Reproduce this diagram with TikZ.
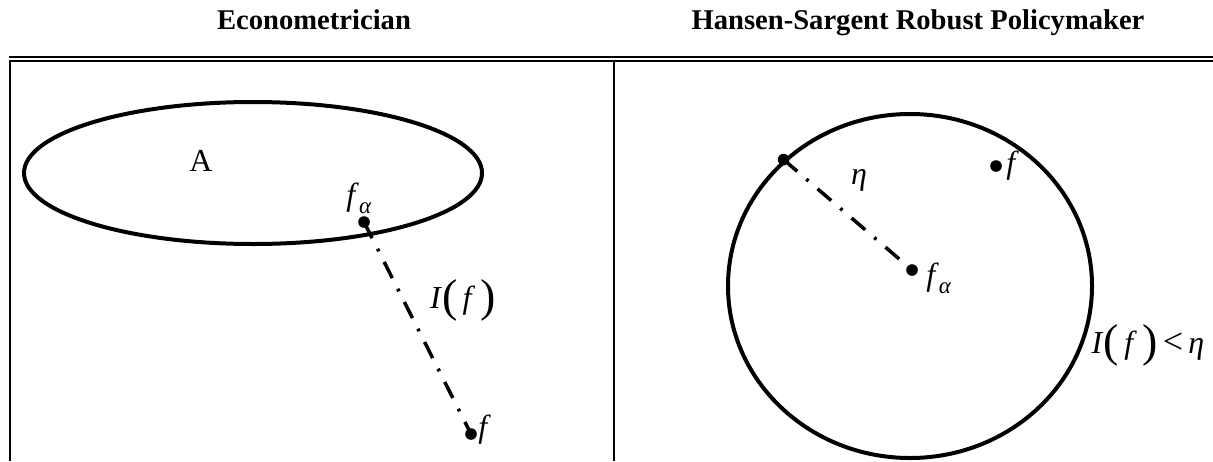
\documentclass[tikz,border=0pt]{standalone}
\usepackage{fontspec}
\setmainfont{Liberation Serif}
\usetikzlibrary{shapes.geometric}
\newcommand\mybigparen[1]{{\fontsize{23}{23}\selectfont\raisebox{-1.5pt}{#1}}}
\newcommand\mysubalpha{\raisebox{-4pt}{\fontsize{11.5}{11.5}\selectfont\textit{α}}}
\begin{document}
\begin{tikzpicture}[x=0.5pt,y=-0.5pt,
  rule/.style={line width=1pt},
  curve/.style={draw,line width=2pt},
  dashdot/.style={line width=1.75pt,dash pattern=on 9pt off 6pt on 1.4pt off 6pt},
  pt/.style={circle,fill,inner sep=0pt,minimum size=5.8pt},
  lab/.style={inner sep=0pt,font=\fontsize{16}{18}\selectfont},
  title/.style={inner sep=0pt,anchor=base,font=\fontsize{14.3}{17}\selectfont\bfseries}]
\useasboundingbox (0,0) rectangle (1213,461);
% titles
\node[title] (t1) at (314,29) {Econometrician};
\node[title] (t2) at (918,29) {Hansen-Sargent Robust Policymaker};
% table rules
\draw[rule] (9,57) -- (1213,57);
\draw[rule] (9,61) -- (1213,61);
\draw[rule] (10,61) -- (10,461);
\draw[rule] (614,61) -- (614,461);
% left panel
\node[ellipse,curve,minimum width=229pt,minimum height=71pt,inner sep=0pt] (EA) at (253,173) {};
\node[lab] (lA) at (201,161) {A};
\node[pt] (fa1) at (364,222) {};
\node[lab] (lfa1) at (359,198) {\textit{f}\mysubalpha};
\node[pt] (f1) at (471,434) {};
\draw[dashdot] (fa1.center) -- (f1.center);
\node[lab,anchor=west] (lf1) at (478,430) {\textit{f}};
\node[lab] (lI) at (463,300) {\textit{I}\mybigparen{(}\,\textit{f}\,\mybigparen{)}};
% right panel
\node[ellipse,curve,minimum width=182pt,minimum height=172pt,inner sep=0pt] (EB) at (910,286) {};
\node[pt] (fa2) at (912,270) {};
\node[pt] (rim) at (EB.135) {};
\draw[dashdot] (rim.center) -- (fa2.center);
\node[lab] (leta) at (859,180) {\textit{η}};
\node[pt] (f2) at (996,166) {};
\node[lab,anchor=west] (lf2) at (1006,166) {\textit{f}};
\node[lab,anchor=west] (lfa2) at (926,278) {\textit{f}\mysubalpha};
\node[lab] (lineq) at (1148,345) {\textit{I}\mybigparen{(}\,\textit{f}\,\mybigparen{)}\,{\fontsize{18}{18}\selectfont<}\,\textit{η}};
\end{tikzpicture}
\end{document}
